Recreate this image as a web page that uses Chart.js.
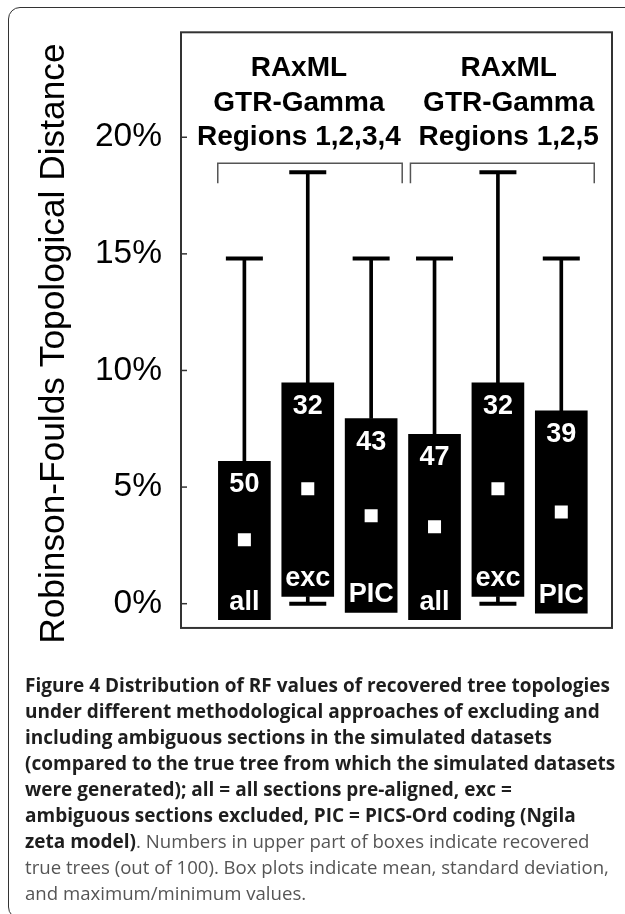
<!DOCTYPE html>
<html>
<head>
<meta charset="utf-8">
<script src="https://cdn.jsdelivr.net/npm/chart.js@4.4.1/dist/chart.umd.min.js"></script>
<style>
  html, body { margin: 0; padding: 0; background: #fff; width: 625px; height: 914px; overflow: hidden; }
  #frame { position: absolute; left: 8px; top: 7px; width: 720px; height: 910px; border: 1.5px solid #333; border-radius: 12px; }
  #chart { position: absolute; left: 0; top: 0; }
  #caption { position: absolute; left: 25px; top: 672px; font-family: "Open Sans", sans-serif; font-size: 18.6px; line-height: 26px; color: #555; white-space: nowrap; }
  #caption b { color: #1e1e1e; font-weight: 700; font-size: 19px; }
</style>
</head>
<body>
<div id="frame"></div>
<canvas id="chart" width="625" height="700"></canvas>
<div id="caption">
<b>Figure 4 Distribution of RF values of recovered tree topologies<br>
under different methodological approaches of excluding and<br>
including ambiguous sections in the simulated datasets<br>
(compared to the true tree from which the simulated datasets<br>
were generated); all = all sections pre-aligned, exc =<br>
ambiguous sections excluded, PIC = PICS-Ord coding (Ngila<br>
zeta model)</b>. Numbers in upper part of boxes indicate recovered<br>
true trees (out of 100). Box plots indicate mean, standard deviation,<br>
and maximum/minimum values.
</div>
<script>
// ---- data ----
const positions   = [1, 2, 3, 4, 5, 6];
const methods     = ['all', 'exc', 'PIC', 'all', 'exc', 'PIC'];
const trueTrees   = [50, 32, 43, 47, 32, 39];
const boxLow      = [-0.69, 0.31, -0.37, -0.69, 0.31, -0.41];  // mean - SD (%)
const boxHigh     = [6.10, 9.47, 7.94, 7.26, 9.47, 8.27];     // mean + SD (%)
const meanRF      = [2.74, 4.93, 3.77, 3.30, 4.93, 3.93];     // mean (%)
const maxRF       = [14.8, 18.5, 14.8, 14.8, 18.5, 14.8];     // maximum (%)
const minRF       = [0, 0, 0, 0, 0, 0];                       // minimum (%)
const groupLines  = [['RAxML', 'GTR-Gamma', 'Regions 1,2,3,4'], ['RAxML', 'GTR-Gamma', 'Regions 1,2,5']];
const groupSpan   = [[0.58, 3.49], [3.62, 6.52]];             // bracket extent on x
const groupCenter = [1.86, 5.17];
const yTicks      = [0, 5, 10, 15, 20];
const yTitle      = 'Robinson-Foulds Topological Distance';

// ---- layout options ----
const FRAME_BOTTOM = -1.04;
const BRACKET_TOP = 18.89, BRACKET_LEG = 18.03;

const boxes   = positions.map((x, i) => ({ x, y: [boxLow[i], boxHigh[i]] }));
const upStems = positions.map((x, i) => ({ x, y: [boxHigh[i], maxRF[i]] }));
const loStems = positions.map((x, i) => ({ x, y: [minRF[i], Math.max(minRF[i], boxLow[i])] }));
const maxCaps = positions.map((x, i) => ({ x, y: maxRF[i] }));
const minCaps = positions.map((x, i) => ({ x, y: minRF[i] }));
const means   = positions.map((x, i) => ({ x, y: meanRF[i] }));

const decor = {
  id: 'decor',
  afterDatasetsDraw(chart) {
    const { ctx, chartArea: a, scales: { x, y } } = chart;
    ctx.save();
    // plot frame
    ctx.strokeStyle = '#333';
    ctx.lineWidth = 2;
    const fb = y.getPixelForValue(FRAME_BOTTOM);
    ctx.strokeRect(a.left, a.top, a.right - a.left, fb - a.top);
    // inward tick marks
    ctx.lineWidth = 1.5;
    y.ticks.forEach(t => {
      const py = y.getPixelForValue(t.value);
      ctx.beginPath(); ctx.moveTo(a.left, py); ctx.lineTo(a.left + 6, py); ctx.stroke();
    });
    // group brackets
    ctx.strokeStyle = '#555';
    ctx.lineWidth = 1.5;
    groupSpan.forEach(([s, e]) => {
      const x1 = x.getPixelForValue(s), x2 = x.getPixelForValue(e);
      const yt = y.getPixelForValue(BRACKET_TOP), yl = y.getPixelForValue(BRACKET_LEG);
      ctx.beginPath(); ctx.moveTo(x1, yl); ctx.lineTo(x1, yt); ctx.lineTo(x2, yt); ctx.lineTo(x2, yl); ctx.stroke();
    });
    // group headers
    ctx.fillStyle = '#000';
    ctx.font = 'bold 28px "Liberation Sans", Arial, sans-serif';
    ctx.textAlign = 'center';
    ctx.textBaseline = 'alphabetic';
    groupLines.forEach((lines, g) => {
      const cx = x.getPixelForValue(groupCenter[g]);
      lines.forEach((t, k) => ctx.fillText(t, cx, a.top + 44 + k * 34.5));
    });
    // labels inside boxes
    ctx.fillStyle = '#fff';
    ctx.font = 'bold 27px "Liberation Sans", Arial, sans-serif';
    positions.forEach((p, i) => {
      const cx = x.getPixelForValue(p);
      ctx.fillText(String(trueTrees[i]), cx, y.getPixelForValue(boxHigh[i]) + 31);
      ctx.fillText(methods[i], cx, y.getPixelForValue(boxLow[i]) - 10);
    });
    ctx.restore();
  }
};

new Chart(document.getElementById('chart'), {
  type: 'bar',
  data: {
    datasets: [
      { type: 'bar', data: upStems, backgroundColor: '#000', barThickness: 3, grouped: false, order: 3 },
      { type: 'bar', data: loStems, backgroundColor: '#000', barThickness: 3, grouped: false, order: 3 },
      { type: 'scatter', data: maxCaps, pointStyle: 'line', radius: 18.5, borderWidth: 4, borderColor: '#000', order: 2 },
      { type: 'scatter', data: minCaps, pointStyle: 'line', radius: 18.5, borderWidth: 4, borderColor: '#000', order: 2 },
      { type: 'bar', data: boxes, backgroundColor: '#000', barThickness: 52, grouped: false, order: 1 },
      { type: 'scatter', data: means, pointStyle: 'rect', radius: 9.2, backgroundColor: '#fff', borderWidth: 0, order: 0 }
    ]
  },
  options: {
    responsive: false,
    animation: false,
    events: [],
    devicePixelRatio: 1,
    layout: { autoPadding: false, padding: { top: 32.3, right: 13, bottom: 45, left: 0 } },
    plugins: { legend: { display: false }, tooltip: { enabled: false } },
    scales: {
      x: { type: 'linear', min: 0, max: 6.8, offset: false, display: false, ticks: { stepSize: 1 } },
      y: {
        type: 'linear', min: -2.2, max: 24.5,
        afterFit(scale) { scale.width = 181; },
        afterBuildTicks(scale) { scale.ticks = yTicks.map(v => ({ value: v })); },
        grid: { display: false, drawTicks: false },
        border: { display: false },
        ticks: {
          padding: 19, color: '#000',
          font: { family: '"Liberation Sans", Arial, sans-serif', size: 33.5, lineHeight: 0.05 },
          callback: v => v + '%'
        },
        title: {
          display: true, text: yTitle, color: '#000',
          font: { family: '"Liberation Sans", Arial, sans-serif', size: 35.3, weight: 'normal' },
          padding: { top: 33, bottom: 0 }
        }
      }
    }
  },
  plugins: [decor]
});
</script>
</body>
</html>
